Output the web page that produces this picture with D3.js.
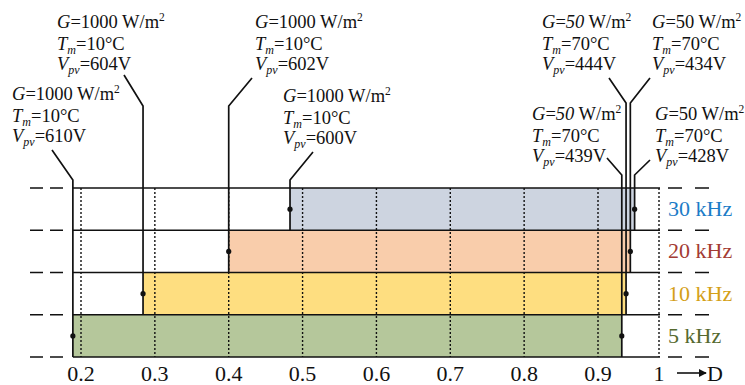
<!DOCTYPE html>
<html>
<head>
<meta charset="utf-8">
<script src="https://cdn.jsdelivr.net/npm/d3@7"></script>
<style>
  html, body { margin: 0; padding: 0; background: #fff; }
  svg { display: block; }
  text { font-family: "Liberation Serif", "Times New Roman", serif; fill: #111; }
</style>
</head>
<body>
<svg id="chart" width="745" height="385"></svg>
<script>
// Switching-frequency bands, bottom to top
const categories = ["5 kHz", "10 kHz", "20 kHz", "30 kHz"];
// Duty-cycle range D covered by each band
const dMin = [0.189, 0.284, 0.400, 0.483];
const dMax = [0.939, 0.946, 0.953, 0.960];
// Operating point at the low-D edge
const gLow = [1000, 1000, 1000, 1000];
const tLow = [10, 10, 10, 10];
const vLow = [610, 604, 602, 600];
// Operating point at the high-D edge
const gHigh = [50, 50, 50, 50];
const tHigh = [70, 70, 70, 70];
const vHigh = [439, 444, 434, 428];
// Axis ticks
const xTicks = [0.2, 0.3, 0.4, 0.5, 0.6, 0.7, 0.8, 0.9, 1.0];
const xTickLabels = ["0.2", "0.3", "0.4", "0.5", "0.6", "0.7", "0.8", "0.9", "1"];

const fillColors = ["#b5c79b", "#fede80", "#f9cdab", "#cdd4e0"];
const labelColors = ["#55692f", "#d4a017", "#a33b33", "#1c7cc7"];

const svg = d3.select("#chart");

// D axis: the last interval (0.9 -> 1) is drawn slightly compressed
const x = d3.scaleLinear().domain([0.2, 0.9, 1.0]).range([81, 598, 659]);
const y = d3.scaleBand().domain(categories.slice().reverse()).range([188, 357]).padding(0);

const rows = categories.map((c, i) => ({
  cat: c, i, d0: dMin[i], d1: dMax[i],
  g0: gLow[i], t0: tLow[i], v0: vLow[i],
  g1: gHigh[i], t1: tHigh[i], v1: vHigh[i]
}));

// Band fills
svg.append("g").selectAll("rect").data(rows).join("rect")
  .attr("x", d => x(d.d0))
  .attr("y", d => y(d.cat))
  .attr("width", d => x(d.d1) - x(d.d0))
  .attr("height", y.bandwidth())
  .attr("fill", (d, i) => fillColors[i]);

// Dotted grid at each D tick
svg.append("g").selectAll("line").data(xTicks).join("line")
  .attr("x1", d => x(d)).attr("x2", d => x(d))
  .attr("y1", y.range()[0]).attr("y2", y.range()[1])
  .attr("stroke", "#111").attr("stroke-width", 1.4)
  .attr("stroke-dasharray", "2,2");

// Horizontal row boundaries
const bounds = categories.map(c => y(c)).concat([y.range()[1]]);
const hx0 = x(dMin[0]), hx1 = x(1.0) + 1;
const hg = svg.append("g").attr("stroke", "#111").attr("stroke-width", 1.6);
hg.selectAll("line.solid").data(bounds).join("line").attr("class", "solid")
  .attr("x1", hx0).attr("x2", hx1).attr("y1", d => d).attr("y2", d => d);
hg.selectAll("line.dl").data(bounds).join("line").attr("class", "dl")
  .attr("x1", 30).attr("x2", 64).attr("y1", d => d).attr("y2", d => d)
  .attr("stroke-dasharray", "13,7");
hg.selectAll("line.dr").data(bounds).join("line").attr("class", "dr")
  .attr("x1", 668).attr("x2", 710).attr("y1", d => d).attr("y2", d => d)
  .attr("stroke-dasharray", "14,13");

// Annotation layout: text anchor and start of the leader line
const lowLayout = [
  { tx: 12, ty: 100, lx: 52, ly: 150, ey: 180 },
  { tx: 57, ty: 28, lx: 124, ly: 75, ey: 106 },
  { tx: 255, ty: 28, lx: 252, ly: 78, ey: 106 },
  { tx: 283, ty: 102, lx: 313, ly: 152, ey: 180 }
];
const highLayout = [
  { tx: 532, ty: 120, lx: 607, ly: 158, ey: 175, it: true },
  { tx: 542, ty: 28, lx: 609, ly: 78, ey: 103, it: true },
  { tx: 652, ty: 28, lx: 650, ly: 78, ey: 103, it: false },
  { tx: 655, ty: 120, lx: 650, ly: 160, ey: 175, it: false }
];

const leaders = svg.append("g").attr("fill", "none").attr("stroke", "#111").attr("stroke-width", 1.7);
function leader(d, dx, L) {
  const bx = x(dx);
  const bottom = y(d.cat) + y.bandwidth();
  leaders.append("path").attr("d", `M${L.lx},${L.ly}L${bx},${L.ey}L${bx},${bottom}`);
}
rows.forEach(d => { leader(d, d.d0, lowLayout[d.i]); leader(d, d.d1, highLayout[d.i]); });

// Operating-point markers
const dots = [];
rows.forEach(d => { dots.push({ cat: d.cat, D: d.d0 }); dots.push({ cat: d.cat, D: d.d1 }); });
svg.append("g").selectAll("circle").data(dots).join("circle")
  .attr("cx", d => x(d.D)).attr("cy", d => y(d.cat) + y.bandwidth() / 2)
  .attr("r", 2.6).attr("fill", "#111");

// Annotation text blocks
const FS = 18.5;
function annot(L, g, t, v, italicG) {
  const t0 = svg.append("text").style("font-size", FS + "px");
  // line 1: G=... W/m^2
  const l1 = t0.append("tspan").attr("x", L.tx).attr("y", L.ty);
  l1.append("tspan").attr("font-style", "italic").text("G");
  l1.append("tspan").text("=");
  l1.append("tspan").attr("font-style", italicG ? "italic" : "normal").text(g);
  l1.append("tspan").text(" W/m");
  t0.append("tspan").style("font-size", "11.5px").attr("dy", -7).text("2");
  // line 2: T_m=..°C
  const y2 = L.ty + 22;
  t0.append("tspan").attr("x", L.tx).attr("y", y2).attr("font-style", "italic").text("T");
  t0.append("tspan").attr("font-style", "italic").style("font-size", "12px").attr("dy", 4).text("m");
  t0.append("tspan").attr("dy", -4).text("=" + t + "°C");
  // line 3: V_pv=..V
  const y3 = L.ty + 42;
  t0.append("tspan").attr("x", L.tx).attr("y", y3).attr("font-style", "italic").text("V");
  t0.append("tspan").attr("font-style", "italic").style("font-size", "12px").attr("dy", 4).text("pv");
  t0.append("tspan").attr("dy", -4).text("=" + v + "V");
}
rows.forEach(d => {
  annot(lowLayout[d.i], d.g0, d.t0, d.v0, false);
  annot(highLayout[d.i], d.g1, d.t1, d.v1, highLayout[d.i].it);
});

// Frequency labels
svg.append("g").selectAll("text").data(rows).join("text")
  .attr("x", 668).attr("y", d => y(d.cat) + y.bandwidth() / 2 + 7)
  .style("font-size", "22px")
  .style("fill", d => labelColors[d.i])
  .text(d => d.cat);

// D axis tick labels
svg.append("g").selectAll("text").data(xTicks).join("text")
  .attr("x", d => x(d)).attr("y", 381)
  .attr("text-anchor", "middle").style("font-size", "22px")
  .text((d, i) => xTickLabels[i]);

// Axis direction arrow and name
svg.append("defs").append("marker")
  .attr("id", "ah").attr("viewBox", "0 0 10 10").attr("refX", 9).attr("refY", 5)
  .attr("markerWidth", 5).attr("markerHeight", 5).attr("orient", "auto")
  .append("path").attr("d", "M0,0L10,5L0,10Z").attr("fill", "#111");
svg.append("line").attr("x1", 677).attr("x2", 706).attr("y1", 373).attr("y2", 373)
  .attr("stroke", "#111").attr("stroke-width", 1.6).attr("marker-end", "url(#ah)");
svg.append("text").attr("x", 707).attr("y", 381).style("font-size", "22px").text("D");
</script>
</body>
</html>
